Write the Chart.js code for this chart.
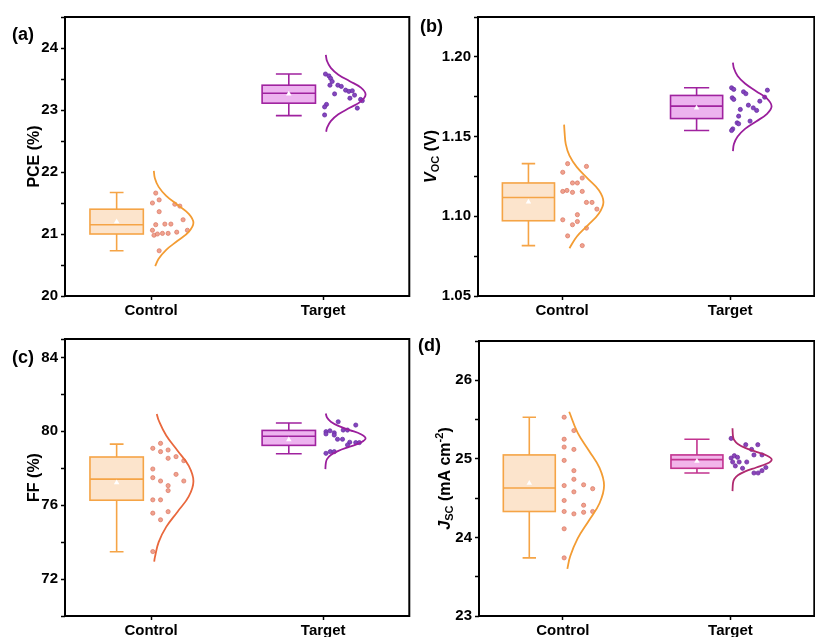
<!DOCTYPE html>
<html>
<head>
<meta charset="utf-8">
<script src="https://cdn.jsdelivr.net/npm/chart.js@4.4.1/dist/chart.umd.min.js"></script>
<style>
  body { margin: 0; background: #fff; }
  #wrap { position: relative; width: 815px; height: 637px; overflow: hidden; background: #fff; }
  canvas { position: absolute; }
</style>
</head>
<body>
<div id="wrap">
  <canvas id="pa" width="414" height="318" style="left:0;top:0"></canvas>
  <canvas id="pb" width="409" height="318" style="left:410px;top:0"></canvas>
  <canvas id="pc" width="414" height="319" style="left:0;top:318px"></canvas>
  <canvas id="pd" width="409" height="319" style="left:410px;top:318px"></canvas>
</div>
<script>
const categories = ['Control', 'Target'];

// box stats: [lower whisker, Q1, median, Q3, upper whisker, mean]
const pceBox = [[20.73, 21.00, 21.15, 21.40, 21.67, 21.20], [22.91, 23.11, 23.27, 23.40, 23.58, 23.26]];
const vocBox = [[1.0816, 1.0972, 1.1118, 1.1209, 1.1330, 1.1090], [1.1538, 1.1613, 1.1691, 1.1758, 1.1806, 1.1680]];
const ffBox = [[73.48, 76.27, 77.41, 78.61, 79.31, 77.22], [78.79, 79.24, 79.73, 80.05, 80.45, 79.55]];
const jscBox = [[23.74, 24.33, 24.63, 25.05, 25.53, 24.69], [24.82, 24.88, 24.99, 25.05, 25.25, 24.97]];

// individual devices and their horizontal jitter
const pceControl = [21.66, 21.50, 21.55, 21.36, 21.48, 21.45, 21.23, 21.15, 21.06, 21.16, 21.16, 20.98, 21.00, 21.01, 21.01, 21.03, 21.06, 20.73];
const pceControlJitter = [0.027, 0.008, 0.047, 0.047, 0.138, 0.167, 0.186, 0.027, 0.008, 0.080, 0.115, 0.017, 0.037, 0.066, 0.099, 0.149, 0.211, 0.047];
const pceTarget = [23.58, 23.55, 23.51, 23.46, 23.40, 23.40, 23.38, 23.32, 23.30, 23.31, 23.26, 23.24, 23.19, 23.17, 23.15, 23.09, 23.05, 23.03, 22.92];
const pceTargetJitter = [0.013, 0.033, 0.043, 0.052, 0.039, 0.085, 0.105, 0.130, 0.149, 0.169, 0.066, 0.182, 0.155, 0.217, 0.227, 0.019, 0.008, 0.198, 0.008];

const vocControl = [1.1330, 1.1313, 1.1276, 1.1240, 1.1209, 1.1209, 1.1156, 1.1162, 1.1150, 1.1156, 1.1087, 1.1087, 1.1045, 1.1010, 1.0978, 1.0967, 1.0947, 1.0926, 1.0877, 1.0816];
const vocControlJitter = [0.033, 0.145, 0.004, 0.120, 0.062, 0.091, 0.004, 0.029, 0.062, 0.120, 0.145, 0.178, 0.207, 0.091, 0.004, 0.091, 0.062, 0.145, 0.033, 0.120];
const vocTarget = [1.1806, 1.1796, 1.1781, 1.1769, 1.1791, 1.1743, 1.1733, 1.1722, 1.1747, 1.1697, 1.1680, 1.1664, 1.1670, 1.1628, 1.1597, 1.1586, 1.1580, 1.1548, 1.1538];
const vocTargetJitter = [0.008, 0.021, 0.079, 0.093, 0.221, 0.012, 0.021, 0.176, 0.205, 0.108, 0.137, 0.157, 0.060, 0.050, 0.118, 0.041, 0.050, 0.015, 0.008];

const ffControl = [79.08, 79.35, 78.90, 78.99, 78.54, 78.63, 78.41, 77.96, 77.49, 77.67, 77.31, 77.06, 76.79, 77.31, 76.29, 76.29, 75.57, 75.65, 75.21, 73.49];
const ffControlJitter = [0.010, 0.055, 0.055, 0.099, 0.099, 0.145, 0.190, 0.010, 0.010, 0.145, 0.055, 0.099, 0.099, 0.190, 0.010, 0.055, 0.010, 0.099, 0.055, 0.010];
const ffTarget = [79.98, 79.86, 80.03, 79.92, 79.80, 80.52, 80.07, 80.07, 80.34, 79.57, 79.57, 79.41, 79.39, 79.39, 79.26, 78.81, 78.90, 78.90];
const ffTargetJitter = [0.016, 0.016, 0.039, 0.064, 0.064, 0.087, 0.116, 0.141, 0.189, 0.083, 0.112, 0.154, 0.189, 0.210, 0.141, 0.016, 0.041, 0.064];

const jscControl = [25.53, 25.36, 25.25, 25.15, 25.12, 24.98, 24.85, 24.74, 24.66, 24.67, 24.62, 24.58, 24.47, 24.41, 24.33, 24.30, 24.32, 24.33, 24.11, 23.74];
const jscControlJitter = [0.008, 0.066, 0.008, 0.008, 0.066, 0.008, 0.066, 0.066, 0.008, 0.124, 0.178, 0.066, 0.008, 0.124, 0.008, 0.066, 0.124, 0.178, 0.008, 0.008];
const jscTarget = [25.26, 25.18, 25.12, 25.18, 25.05, 25.05, 25.01, 25.04, 25.02, 24.96, 24.96, 24.96, 24.91, 24.88, 24.82, 24.82, 24.85, 24.89];
const jscTargetJitter = [0.004, 0.091, 0.126, 0.163, 0.140, 0.188, 0.004, 0.023, 0.042, 0.052, 0.013, 0.097, 0.029, 0.072, 0.140, 0.165, 0.188, 0.211];

// fitted normal curves: [value, density width]
const pceControlCurve = [[22.02, .016], [21.90, .022], [21.76, .044], [21.615, .088], [21.47, .154], [21.325, .219], [21.18, .246], [21.035, .219], [20.89, .154], [20.745, .088], [20.60, .044], [20.48, .024]];
const pceTargetCurve = [[23.89, .015], [23.79, .022], [23.68, .044], [23.57, .088], [23.465, .154], [23.36, .219], [23.25, .246], [23.14, .219], [23.035, .154], [22.93, .088], [22.82, .044], [22.71, .022], [22.65, .017]];
const vocControlCurve = [[1.1575, .012], [1.1525, .015], [1.1453, .022], [1.1380, .044], [1.1308, .088], [1.1235, .154], [1.1163, .219], [1.1090, .246], [1.1018, .219], [1.0945, .154], [1.0873, .088], [1.0800, .044]];
const vocTargetCurve = [[1.1964, .016], [1.1928, .022], [1.1880, .044], [1.1833, .088], [1.1785, .154], [1.1738, .219], [1.1690, .246], [1.1643, .219], [1.1595, .154], [1.1548, .088], [1.1500, .044], [1.1453, .022], [1.1408, .016]];
const ffControlCurve = [[80.94, .033], [80.60, .044], [79.775, .088], [78.95, .154], [78.125, .219], [77.30, .246], [76.475, .219], [75.65, .154], [74.825, .088], [74.00, .044], [73.175, .022], [72.94, .018]];
const ffTargetCurve = [[80.97, .015], [80.745, .022], [80.52, .044], [80.295, .088], [80.07, .154], [79.845, .219], [79.62, .246], [79.395, .219], [79.17, .154], [78.945, .088], [78.72, .044], [78.495, .022], [78.27, .015], [77.95, .0125]];
const jscControlCurve = [[25.60, .038], [25.335, .088], [25.11, .154], [24.885, .219], [24.66, .246], [24.435, .219], [24.21, .154], [23.985, .088], [23.76, .044], [23.60, .027]];
const jscTargetCurve = [[25.39, .012], [25.29, .015], [25.24, .022], [25.19, .044], [25.14, .088], [25.09, .154], [25.04, .219], [24.99, .246], [24.94, .219], [24.89, .154], [24.84, .088], [24.79, .044], [24.74, .022], [24.69, .015], [24.59, .012]];

const FONT = "'Liberation Sans', Arial, sans-serif";
const orange = { stroke: '#F5A446', fill: '#FCE4CC', curve: '#F39C33', dot: '#EFA28F', dotEdge: '#DB7561' };
const purple = { stroke: '#A0229F', fill: '#EDB3EF', curve: '#9A1E9C', dot: '#8446BE', dotEdge: '#6428A0' };

function boxPlugin(boxes, colors) {
    return {
        id: 'boxes',
        beforeDatasetsDraw(chart) {
            const ctx = chart.ctx;
            const xs = chart.scales.x;
            const ys = chart.scales.y;
            boxes.forEach((b, i) => {
                const c = i + 1 - 0.2;
                const col = colors[i];
                const left = xs.getPixelForValue(c - 0.155);
                const right = xs.getPixelForValue(c + 0.155);
                const mid = xs.getPixelForValue(c);
                const capHalf = xs.getPixelForValue(c + (i === 0 ? 0.04 : 0.075)) - mid;
                const yLow = ys.getPixelForValue(b[0]);
                const yQ1 = ys.getPixelForValue(b[1]);
                const yMed = ys.getPixelForValue(b[2]);
                const yQ3 = ys.getPixelForValue(b[3]);
                const yHigh = ys.getPixelForValue(b[4]);
                ctx.save();
                ctx.fillStyle = col.fill;
                ctx.fillRect(left, yQ3, right - left, yQ1 - yQ3);
                ctx.strokeStyle = col.stroke;
                ctx.lineWidth = 1.6;
                ctx.strokeRect(left, yQ3, right - left, yQ1 - yQ3);
                ctx.beginPath();
                ctx.moveTo(left, yMed); ctx.lineTo(right, yMed);
                ctx.moveTo(mid, yQ3); ctx.lineTo(mid, yHigh);
                ctx.moveTo(mid, yQ1); ctx.lineTo(mid, yLow);
                ctx.moveTo(mid - capHalf, yHigh); ctx.lineTo(mid + capHalf, yHigh);
                ctx.moveTo(mid - capHalf, yLow); ctx.lineTo(mid + capHalf, yLow);
                ctx.stroke();
                ctx.restore();
            });
        }
    };
}

function decorPlugin(panel) {
    return {
        id: 'decor',
        afterDraw(chart) {
            const ctx = chart.ctx;
            const a = chart.chartArea;
            ctx.save();
            ctx.strokeStyle = '#000';
            ctx.lineWidth = 2;
            ctx.strokeRect(a.left, a.top, a.right - a.left, a.bottom - a.top);

            ctx.fillStyle = '#000';
            ctx.font = `bold 18px ${FONT}`;
            ctx.textBaseline = 'middle';
            ctx.textAlign = 'left';
            ctx.fillText(panel.tag, panel.tagX, panel.tagY);

            // y title with sub/superscripts
            const yc = (a.top + a.bottom) / 2;
            ctx.translate(panel.titleX, yc);
            ctx.rotate(-Math.PI / 2);
            ctx.textBaseline = 'alphabetic';
            const fontOf = p => `${p.it ? 'italic ' : ''}bold ${p.sub || p.sup ? 11 : 16}px ${FONT}`;
            let total = 0;
            panel.title.forEach(p => { ctx.font = fontOf(p); total += ctx.measureText(p.t).width; });
            let x = -total / 2;
            panel.title.forEach(p => {
                ctx.font = fontOf(p);
                const dy = p.sub ? 9 : (p.sup ? -1 : 6);
                ctx.fillText(p.t, x, dy);
                x += ctx.measureText(p.t).width;
            });
            ctx.restore();
        }
    };
}

function dots(values, jitter, cat) {
    return values.map((v, i) => ({ x: cat + jitter[i], y: v }));
}

function curve(points, cat) {
    return points.map(p => ({ x: cat + p[1], y: p[0] }));
}

function buildPanel(id, panel) {
    const ctrlCol = panel.colors[0];
    const tgtCol = panel.colors[1];
    new Chart(document.getElementById(id), {
        type: 'scatter',
        data: {
            datasets: [
                {
                    data: curve(panel.curves[0], 1),
                    showLine: true, tension: 0.4, pointRadius: 0,
                    borderColor: panel.ctrlCurve || ctrlCol.curve, borderWidth: 1.8
                },
                {
                    data: curve(panel.curves[1], 2),
                    showLine: true, tension: 0.4, pointRadius: 0,
                    borderColor: tgtCol.curve, borderWidth: 1.8
                },
                {
                    data: dots(panel.dots[0], panel.jitter[0], 1),
                    pointRadius: 2.1, backgroundColor: ctrlCol.dot, borderColor: ctrlCol.dotEdge, borderWidth: 0.7
                },
                {
                    data: dots(panel.dots[1], panel.jitter[1], 2),
                    pointRadius: 2.1, backgroundColor: tgtCol.dot, borderColor: tgtCol.dotEdge, borderWidth: 0.7
                },
                {
                    data: panel.boxes.map((b, i) => ({ x: i + 0.8, y: b[5] })),
                    pointStyle: 'triangle', pointRadius: 3.2,
                    backgroundColor: '#ffffff', borderColor: '#ffffff', borderWidth: 0
                }
            ]
        },
        options: {
            responsive: false,
            animation: false,
            devicePixelRatio: 1,
            layout: { padding: { top: panel.padTop, right: 1, left: 0, bottom: 0 } },
            plugins: { legend: { display: false }, tooltip: { enabled: false } },
            scales: {
                x: {
                    type: 'linear', min: 0.5, max: 2.5,
                    afterBuildTicks: scale => { scale.ticks = [{ value: 1 }, { value: 2 }]; },
                    afterFit: scale => { scale.height = panel.xHeight; },
                    border: { display: false },
                    grid: { drawOnChartArea: false, drawTicks: true, tickLength: 4, tickColor: '#000', tickWidth: 1.5 },
                    ticks: {
                        padding: 2, color: '#000', maxRotation: 0,
                        font: { family: FONT, size: 15, weight: 'bold' },
                        callback: v => categories[Math.round(v) - 1]
                    }
                },
                y: {
                    min: panel.yMin, max: panel.yMax,
                    afterFit: scale => { scale.width = panel.yWidth; },
                    border: { display: false },
                    grid: { drawOnChartArea: false, drawTicks: true, tickLength: 4, tickColor: '#000', tickWidth: 1.5 },
                    ticks: {
                        stepSize: panel.step, padding: 3, color: '#000', autoSkip: false,
                        font: { family: FONT, size: 15, weight: 'bold' },
                        callback: panel.label
                    }
                }
            }
        },
        plugins: [boxPlugin(panel.boxes, panel.colors), decorPlugin(panel)]
    });
}

buildPanel('pa', {
    tag: '(a)', tagX: 12, tagY: 35, titleX: 33, padTop: 17, xHeight: 22, yWidth: 65,
    title: [{ t: 'PCE (%)' }],
    yMin: 20, yMax: 24.5, step: 0.5,
    label: v => Math.abs(v - Math.round(v)) < 1e-6 ? String(Math.round(v)) : '',
    boxes: pceBox, colors: [orange, purple],
    dots: [pceControl, pceTarget], jitter: [pceControlJitter, pceTargetJitter],
    curves: [pceControlCurve, pceTargetCurve]
});

buildPanel('pb', {
    tag: '(b)', tagX: 10, tagY: 27, titleX: 20, padTop: 17, xHeight: 22, yWidth: 68,
    title: [{ t: 'V', it: true }, { t: 'OC', sub: true }, { t: ' (V)' }],
    yMin: 1.05, yMax: 1.225, step: 0.025,
    label: v => Math.round(v * 1000) % 50 === 0 ? v.toFixed(2) : '',
    boxes: vocBox, colors: [orange, purple],
    dots: [vocControl, vocTarget], jitter: [vocControlJitter, vocTargetJitter],
    curves: [vocControlCurve, vocTargetCurve]
});

buildPanel('pc', {
    tag: '(c)', tagX: 12, tagY: 40, titleX: 33, padTop: 21, xHeight: 21, yWidth: 65,
    title: [{ t: 'FF (%)' }],
    yMin: 70, yMax: 85, step: 2,
    label: v => (v >= 72 && Math.round(v - 72) % 4 === 0 && Math.abs(v - Math.round(v)) < 1e-6) ? String(Math.round(v)) : '',
    boxes: ffBox, colors: [orange, purple], ctrlCurve: '#E9683D',
    dots: [ffControl, ffTarget], jitter: [ffControlJitter, ffTargetJitter],
    curves: [ffControlCurve, ffTargetCurve]
});

buildPanel('pd', {
    tag: '(d)', tagX: 8, tagY: 28, titleX: 34, padTop: 23, xHeight: 21, yWidth: 69,
    title: [{ t: 'J', it: true }, { t: 'SC', sub: true }, { t: ' (mA cm' }, { t: '-2', sup: true }, { t: ')' }],
    yMin: 23, yMax: 26.5, step: 0.5,
    label: v => Math.abs(v - Math.round(v)) < 1e-6 ? String(Math.round(v)) : '',
    boxes: jscBox,
    colors: [orange, { stroke: '#C2338F', fill: '#F2B5EA', curve: '#B0296F', dot: '#8A44BA', dotEdge: '#6A2A9A' }],
    dots: [jscControl, jscTarget], jitter: [jscControlJitter, jscTargetJitter],
    curves: [jscControlCurve, jscTargetCurve]
});
</script>
</body>
</html>
